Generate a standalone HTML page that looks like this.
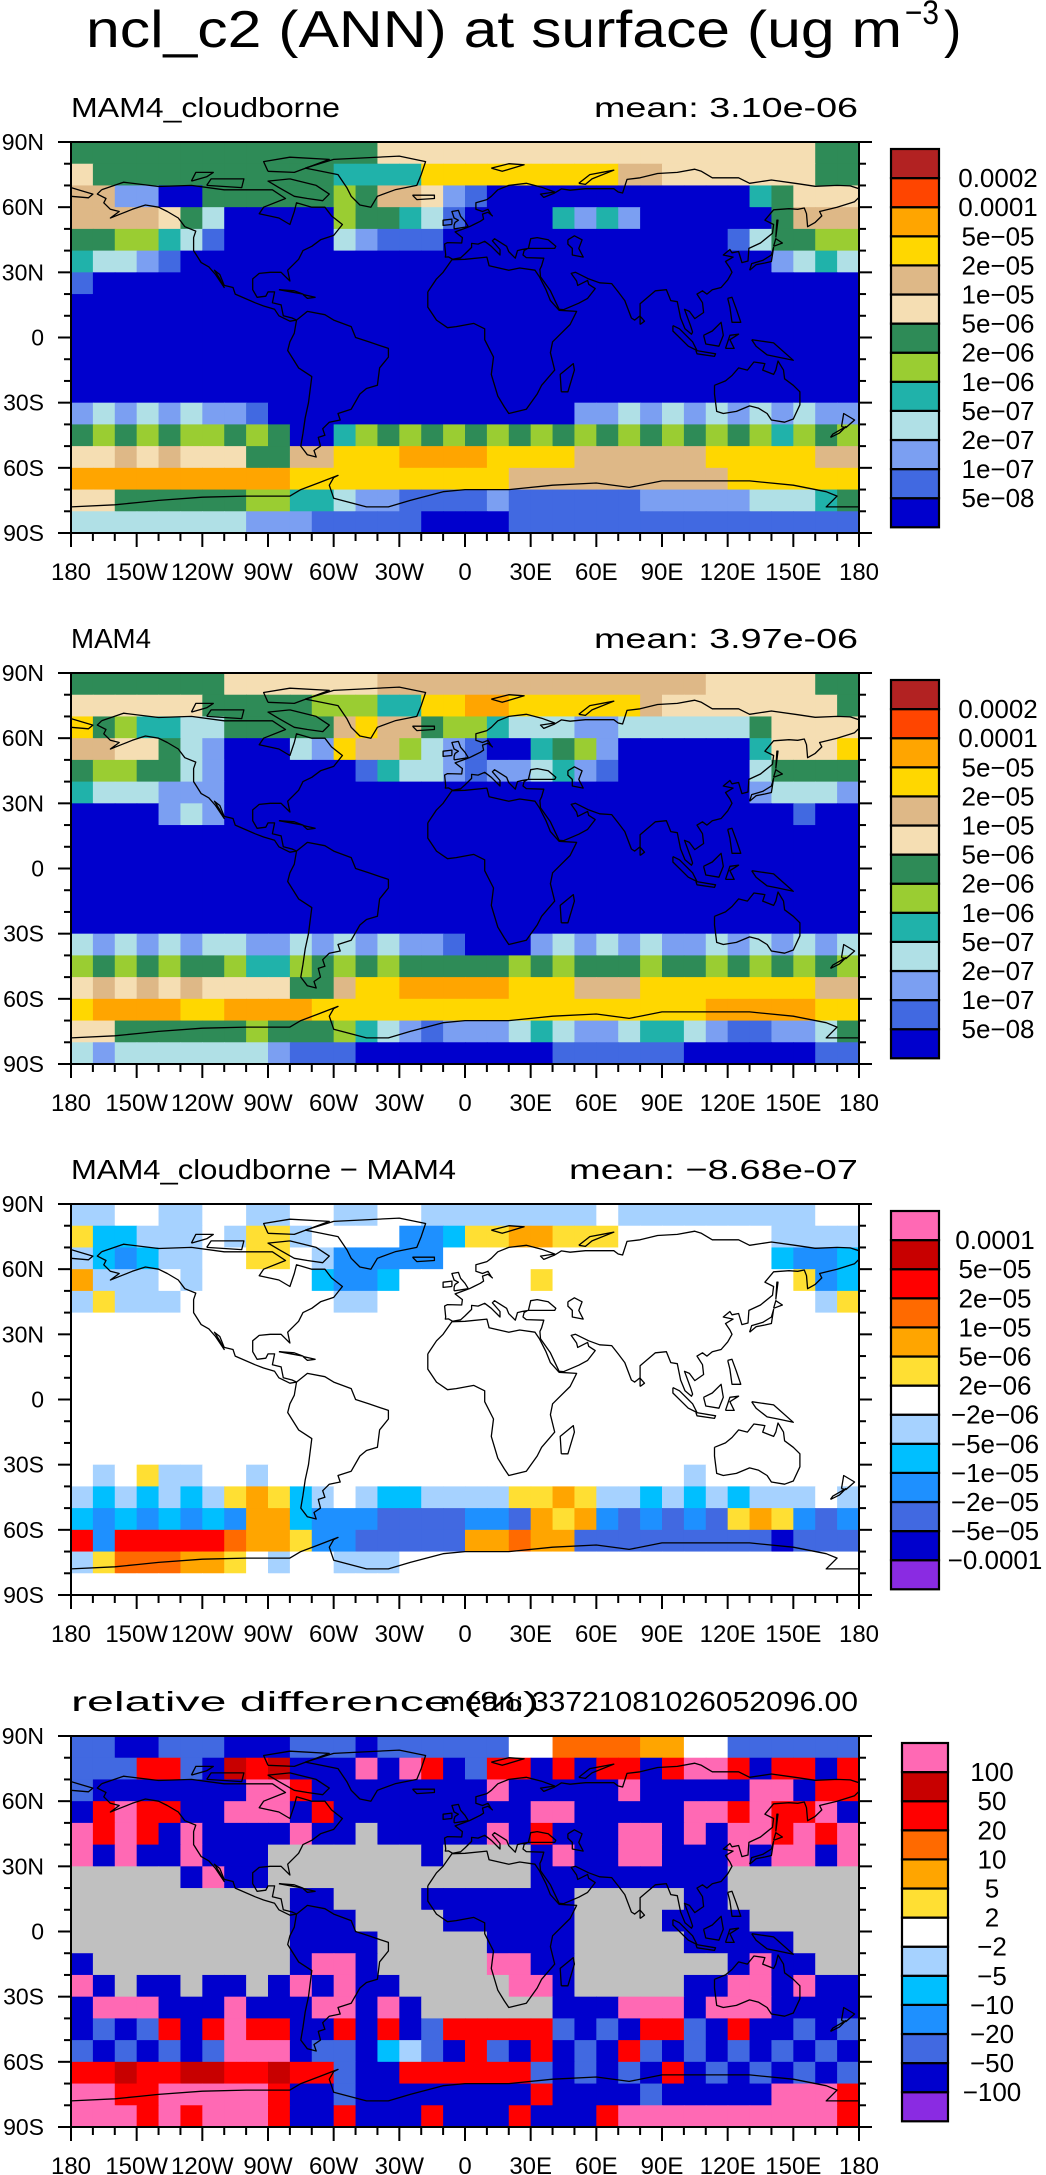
<!DOCTYPE html>
<html><head><meta charset="utf-8"><style>
html,body{margin:0;padding:0;background:#fff;}
svg{display:block;font-family:"Liberation Sans",sans-serif;}
</style></head><body>
<svg id="fig" width="1046" height="2175" viewBox="0 0 1046 2175">
<text x="86" y="47" font-size="52" textLength="816" lengthAdjust="spacingAndGlyphs">ncl_c2 (ANN) at surface (ug m</text>
<text x="905" y="24" font-size="34" textLength="34" lengthAdjust="spacingAndGlyphs">−3</text>
<text x="944" y="47" font-size="52">)</text>
</svg>
<script>
// ---- data ----
const panelTitles = ["MAM4_cloudborne","MAM4","MAM4_cloudborne − MAM4","relative difference (%)"];
const panelMeans = ["mean: 3.10e-06","mean: 3.97e-06","mean: −8.68e-07","mean: 33721081026052096.00"];
const lonLabels = ["180","150W","120W","90W","60W","30W","0","30E","60E","90E","120E","150E","180"];
const latLabels = ["90S","60S","30S","0","30N","60N","90N"];
const levLabelsConc = ["5e−08","1e−07","2e−07","5e−07","1e−06","2e−06","5e−06","1e−05","2e−05","5e−05","0.0001","0.0002"];
const levLabelsDiff = ["−0.0001","−5e−05","−2e−05","−1e−05","−5e−06","−2e−06","2e−06","5e−06","1e−05","2e−05","5e−05","0.0001"];
const levLabelsRel = ["−100","−50","−20","−10","−5","−2","2","5","10","20","50","100"];
const paletteConc = ["#0000cd","#4169e1","#7b9ff2","#b0e0e6","#20b2aa","#9acd32","#2e8b57","#f5deb3","#deb887","#ffd700","#ffa500","#ff4500","#b22222"];
const paletteDiff = ["#8a2be2","#0000cd","#4169e1","#1e90ff","#00bfff","#a6d2ff","#ffffff","#ffdf33","#ffa500","#ff6a00","#ff0000","#c80000","#ff69b4"];
const missingColor = "#c0c0c0";
// gridded level indices: 18 rows (90N->90S, 10deg) x 36 cols (180W->180E, 10deg)
const gridP1 = [
"666666 666666 667777 777777 777777 777766","766666 666666 444499 999999 988777 777766",
"882200 666666 568872 100000 000000 046777","888876 300000 566431 000042 420000 006888",
"665543 100000 321110 000000 000000 136655","433210 000000 000000 000000 000000 002343",
"100000 000000 000000 000000 000000 000000","000000 000000 000000 000000 000000 000000",
"000000 000000 000000 000000 000000 000000","000000 000000 000000 000000 000000 000000",
"000000 000000 000000 000000 000000 000000","000000 000000 000000 000000 000000 000000",
"232323 221000 000000 000002 232323 232322","656565 565600 456565 656565 656565 654565",
"778787 776688 999aaa a99998 888889 999988","aaaaaa aaaa99 999999 998888 888888 999999",
"776666 665544 322111 121111 112222 233346","333333 332221 111100 001111 111111 111111"];
const gridP2 = [
"666666 677777 778888 888888 888887 777766","777777 666665 554499 aa9999 998777 777776",
"965443 366666 898865 543332 233333 367777","887763 200032 988532 100465 200000 047779",
"655663 200000 014332 122342 100000 036666","433322 200000 000000 000000 000000 023332",
"000023 200000 000000 000000 000000 000100","000000 000000 000000 000000 000000 000000",
"000000 000000 000000 000000 000000 000000","000000 000000 000000 000000 000000 000000",
"000000 000000 000000 000000 000000 000000","000000 000000 000000 000000 000000 000000",
"323232 332232 323221 000232 323223 232323","565656 654456 565666 665656 665665 656565",
"787878 777766 899aaa aa9998 889999 999988","9aaaa9 9aaaa9 999999 999999 99999a aaaa99",
"776666 665666 543212 223432 234432 112236","323333 333211 100000 000011 111100 000011"];
const gridP3 = [
"556655 665566 556655 555555 655555 555566","744555 657756 666334 778877 766666 665555",
"543455 667765 333336 666666 666666 664334","855565 666664 334666 666766 666666 666734",
"575556 666666 556666 666666 666666 666657","666666 666666 666666 666666 666666 666666",
"666666 666666 666666 666666 666666 666666","666666 666666 666666 666666 666666 666666",
"666666 666666 666666 666666 666666 666666","666666 666666 666666 666666 666666 666666",
"666666 666666 666666 666666 666666 666666","666666 666666 666666 666666 666666 666666",
"656755 665666 666666 666666 666656 666666","545454 578745 654455 557787 554545 455565",
"434343 438843 332222 332878 323232 787323","a3aaaa a98873 322222 889882 222222 221222",
"579998 876566 555666 666666 666666 666666","666666 666666 666666 666666 666666 666666"];
const gridP4 = [
"221122 211122 212222 226699 998866 222222","222aa2 1bab11 1c1ca1 2aa1a1 aa1acc a1aa1a",
"211111 11cca1 111111 1c1111 1c1111 1cc1aa","1acaa1 1ccc1a 111111 111cc1 1111cc acaac1",
"caca1c 1111c1 1g1111 1c1a11 1cc1c1 ccacac","c1c11c 111ggg gggg1g ggg1c1 1cc111 c1cc1c",
"ggggg1 c11ggg gggggg ggg111 111111 gggggg","gggggg gggg11 gggg11 11111g gggg11 gggggg",
"gggggg gggg11 1gggg1 11111g ggg111 1ggggg","gggggg gggg11 11gggg g1111g gggg11 111ggg",
"1ggggg gggg1c c1gggg gcc11g gggggg 1c11gg","c1g11g 11g1c1 c11ggg ggcc1g gggg11 cc1c11",
"1ccc11 1c111c c1c1gg gggg11 1ccc1c cc1111","1212a1 acaa11 a1a12a aaaa21 21aa21 a11212",
"212121 2ccc12 214521 a21a12 1a2121 212121","aabaab baabaa 211aaa aaa212 121a12 121212",
"ccaacc ccca11 211111 111a11 112111 11ccca","cccaca ccca11 a111a1 11a111 accccc ccccca"];
// coastlines [lon,lat]
const coasts = [
[[-166,68],[-156,71.5],[-140,69.5],[-125,70],[-110,68],[-95,68],[-88,68],[-82,64],[-92,60],[-94,57],[-85,55],[-80,52],[-78,58],[-77,62],[-70,60],[-64,60],[-61,56],[-56,52],[-60,47],[-66,45],[-70,42],[-74,40],[-76,36],[-81,31],[-80,26],[-82,28],[-84,30],[-89,30],[-94,29.5],[-97,27],[-97,22],[-95,18.5],[-91,19],[-90,21],[-87,21],[-88,16],[-84,15],[-83,10],[-79,9],[-77,8],[-80,7.5],[-85,10],[-87,13],[-92,14.5],[-96,16],[-105,20],[-106,23],[-110,24],[-112,29],[-114.5,31],[-112,27],[-110,23],[-114,29],[-117,32.5],[-120.5,34.5],[-124,40],[-124,46],[-123,49],[-128,51],[-131,55],[-136,58],[-140,60],[-146,61],[-152,59],[-157,57],[-162,55],[-158,58],[-162,59],[-165,62],[-164,64],[-168,66],[-166,68]],
[[-73,78],[-60,82],[-30,83.5],[-18,81],[-20,75],[-22,70],[-32,68],[-40,65],[-43,60],[-48,61],[-52,65],[-54,69],[-58,75],[-68,77],[-73,78]],
[[-77,8],[-72,12],[-64,10.5],[-60,8],[-52,5],[-50,0],[-44,-2],[-35,-5],[-35,-9],[-39,-14],[-40,-22],[-45,-23.5],[-48,-26],[-52,-33],[-58,-35],[-57,-38],[-62,-39],[-65,-42],[-64,-45],[-67,-46],[-66,-50],[-69,-52],[-68,-55],[-72,-54],[-75,-50],[-74,-44],[-73,-37],[-71.5,-30],[-70,-18],[-76,-14],[-81,-6],[-80,-2],[-78,2],[-77,8]],
[[-17,21],[-13,27],[-10,30],[-6,35.8],[0,36],[10,37],[11,33],[20,31],[25,32],[32,31],[34,28],[37,22],[39,17],[43,12.5],[51,12],[48,6],[40,-2],[39,-7],[41,-15],[35,-22],[33,-26],[28,-33],[20,-35],[18,-32],[15,-27],[12,-17],[13,-9],[9,-1],[9,4],[4,6.5],[-4,5],[-8,4.5],[-13,8],[-17,14],[-17,21]],
[[-5.6,36],[-2,36.7],[0,38.5],[3,41.5],[3,43.3],[6,43],[9,44.3],[12,42],[16,38],[16,40.5],[12.5,44.5],[13.5,45.5],[19,42],[20,39.5],[23,36.5],[24,40],[26,40.5],[29,41],[41,41],[41.5,42],[38,45],[33,46],[30,45.5],[29,41.2],[27,40],[26.5,38],[28,36.8],[36,36.5],[35,33],[34.2,31.3],[34.5,28],[39,21.5],[43,13],[45,12.8],[52,15.8],[56,18],[59.5,22.5],[56.5,24.5],[56,26.3],[51.5,24],[51,26],[48.5,29.5],[50.5,30],[56.5,27],[61.5,25.2],[67,24.8],[70,21],[73,17],[76,9],[77.5,8],[80,10],[80,15.5],[87,21.5],[92,22],[94,17],[97,16.5],[98.5,9],[100.5,4],[103.5,1.5],[104,2.5],[103,5.5],[100.3,13],[102.5,12],[105,8.7],[109,11.5],[108.5,16],[106,20],[108.5,21.5],[110.5,20],[113,22],[117,23],[120,26.5],[122,30],[121,32],[119,35],[122.5,37],[118,38],[121,40.5],[122,39],[125,39.6],[126.5,34.5],[129.3,35.2],[129.7,41],[135,43.5],[140.5,48],[141,52],[137,54],[141,58.8],[148,59.3],[152,59],[155,59.6],[156,57],[156.5,51],[160,53],[163,56],[162,58],[170,60],[178,62.5],[180,64.5]],
[[180,68.5],[176,69.8],[170,70],[160,69.6],[152,70.8],[140,72.5],[130,71],[125,73.5],[113,73.5],[108,76.5],[105,77.5],[97,76],[88,75.5],[80,73.5],[74,72.8],[72,66.5],[70,67],[68,68.5],[60,68.5],[55,68.5],[48,67.8],[44,68.4],[41,66.5],[36,64.5],[34.5,66],[41,67],[35,69.2],[28,71],[20,70],[15,68],[12,65],[10,63.5],[5,62],[5,59],[8,58],[10.5,59],[12,56.5],[12.5,56],[10.5,57.7],[8,56.8],[8.5,54.5],[7,53.5],[4,52],[2,51],[-1.5,49.7],[-4.5,48.6],[-1.2,46],[-1.5,43.5],[-8,43.7],[-9.3,43],[-8.8,38],[-9,37],[-7.5,37.1],[-5.6,36]],
[[-180,65],[-172,64.3],[-170,66],[-175,67.5],[-180,69]],
[[114,-22],[114,-26],[115,-34],[118,-35],[124,-34],[130,-31.5],[134,-32.5],[138,-35],[140,-38],[146,-39],[150,-37.5],[153,-31],[153,-25],[150,-22],[146,-19],[145.5,-15],[143,-10.8],[142,-15],[141,-17],[136,-15],[137,-12],[132,-11.3],[129,-15],[125,-14],[122,-17.5],[119,-20],[114,-22]],
[[-180,-78],[-160,-77],[-150,-76],[-140,-75],[-120,-73.5],[-100,-73],[-80,-73],[-75,-70],[-67,-67],[-58,-63.5],[-60,-64.5],[-62,-68],[-60,-74],[-45,-78],[-35,-78],[-25,-75],[-10,-71],[0,-70],[20,-70],[40,-68],[60,-67],[75,-69],[90,-66],[110,-66],[130,-66],[150,-68],[165,-71],[170,-73],[165,-78],[180,-78]],
[[-5,50],[1.5,51],[0,53.5],[-2,55.8],[-3,58.5],[-6,58],[-5,55],[-3,54],[-4.5,53],[-5,51.7],[-5,50]],
[[-6,52],[-6,54.5],[-10,54],[-10,51.6],[-6,52]],
[[130,31],[131,34],[136,35.5],[140,38],[141,41.5],[140,35],[137,34.3],[133,33.5],[130,31]],
[[141,42],[145,43.5],[142,45.5],[141,42]],
[[44,-25],[47,-25],[50,-15],[49.5,-12],[43.5,-17],[44,-25]],
[[172,-41],[174,-41.5],[178,-38],[173,-35],[172,-41]],[[167,-46],[171,-44],[174,-41],[168,-44.5],[167,-46]],
[[95,5.5],[98,4],[104,-2],[106,-6],[102,-4],[95,3],[95,5.5]],
[[109,1],[110,-3],[116,-4],[118,1],[117,7],[113,3],[109,1]],
[[105.5,-6],[114.5,-7.5],[114,-8.7],[106,-7.5],[105.5,-6]],
[[131,-1],[141,-2.5],[150,-10.5],[143,-9],[138,-8],[133,-4],[131,-1]],
[[119,-5],[121,1],[125,1.5],[121,-1],[123,-5],[119,-5]],
[[120,18],[122,18.5],[124,13],[126,7],[122,7],[121,14],[120,18]],
[[-24,65.5],[-14,65.5],[-14,64],[-22,63.5],[-24,65.5]],
[[-85,22],[-74,20],[-78,21.5],[-85,22]],[[-74,19.8],[-68.5,18.5],[-72,18],[-74,19.8]],
[[-80,73],[-68,70],[-62,66],[-65,63],[-72,64],[-78,65],[-85,69],[-90,72],[-80,73]],
[[-90,76.5],[-78,76],[-62,82],[-80,83],[-92,81],[-90,76.5]],
[[-118,70],[-102,69],[-101,73],[-116,73],[-118,70]],
[[-125,72],[-118,74],[-115,76],[-123,76],[-125,72]],
[[12,78],[20,80],[27,79.5],[17,76.5],[12,78]],
[[52,71],[57,75],[68,77],[58,73],[55,70.5],[52,71]],
[[142,46],[143,54],[142.5,54],[142,46]],
[[47,45],[50,46.8],[53.5,45],[52,41],[54,37],[49,38],[49,41],[47,43],[47,45]],
[[80,6],[82,7.5],[80,9.8],[80,6]]
];
// ---- drawing ----
const NS = "http://www.w3.org/2000/svg";
const svg = document.getElementById("fig");
function mk(tag, attrs, parent){const e=document.createElementNS(NS,tag);for(const k in attrs)e.setAttribute(k,attrs[k]);parent.appendChild(e);return e;}
const L=71, W=788, H=391;
const tops=[142,673,1204,1736];
const grids=[gridP1,gridP2,gridP3,gridP4];
const palettes=[paletteConc,paletteConc,paletteDiff,paletteDiff];
const labelSets=[levLabelsConc,levLabelsConc,levLabelsDiff,levLabelsRel];
const cbX=[891,891,891,902], cbW=[48,48,48,46], cbLabX=[998,998,995,992];
const titleW=[269,80,385,468], meanW=[264,264,289,418];
function xs(lon){return L+(lon+180)/360*W;}
function ys(top,lat){return top+(90-lat)/180*H;}
for(let p=0;p<4;p++){
  const T=tops[p];
  const g=mk("g",{},svg);
  
  
  const t1=mk("text",{x:L,y:T-25,"font-size":28,textLength:titleW[p],lengthAdjust:"spacingAndGlyphs"},g);
  t1.textContent=panelTitles[p];
  
  
  const t2=mk("text",{x:858,y:T-25,"font-size":28,"text-anchor":"end",textLength:meanW[p],lengthAdjust:"spacingAndGlyphs"},g);
  t2.textContent=panelMeans[p];
  
  
  const cp=mk("clipPath",{id:"clip"+p},g);
  mk("rect",{x:L,y:T,width:W,height:H},cp);
  const field=mk("g",{"clip-path":"url(#clip"+p+")"},g);
  
  
  const rows=grids[p], pal=palettes[p];
  for(let r=0;r<rows.length;r++){
    const s=rows[r].replace(/ /g,"");
    for(let c=0;c<s.length;c++){
      const ch=s[c];
      const col= ch==="g"?missingColor:pal[parseInt(ch,16)];
      const lon0=-180+c*10, lat0=90-r*10;
      const cell=mk("rect",{x:xs(lon0),y:ys(T,lat0),width:W/36+0.6,height:H/18+0.6,fill:col},field);
      
      
    }
  }
  const cg=mk("g",{"clip-path":"url(#clip"+p+")",fill:"none",stroke:"#000","stroke-width":1.3,"stroke-linejoin":"round"},g);
  
  
  coasts.forEach(poly=>{
    const d="M"+poly.map(pt=>xs(pt[0]).toFixed(1)+","+ys(T,pt[1]).toFixed(1)).join("L");
    const pa=mk("path",{d:d},cg);
    
    
  });
  const fr=mk("rect",{x:L,y:T,width:W,height:H,fill:"none",stroke:"#000","stroke-width":2},g);
  
  
  // ticks
  for(let lat=-90;lat<=90;lat+=10){
    const y=ys(T,lat), len=(lat%30===0)?13:7;
    const tl=mk("line",{x1:L-len,x2:L,y1:y,y2:y,stroke:"#000","stroke-width":2},g);
    
    
    const tr=mk("line",{x1:L+W,x2:L+W+len,y1:y,y2:y,stroke:"#000","stroke-width":2},g);
    
    
  }
  latLabels.forEach((lab,i)=>{
    const tx=mk("text",{x:44,y:ys(T,-90+i*30)+8,"font-size":23,"text-anchor":"end"},g);
    tx.textContent=lab;
    
    
  });
  for(let lon=-180;lon<=180;lon+=10){
    const x=xs(lon), len=(lon%30===0)?14:8;
    const tb=mk("line",{x1:x,x2:x,y1:T+H,y2:T+H+len,stroke:"#000","stroke-width":2},g);
    
    
  }
  lonLabels.forEach((lab,i)=>{
    const tx=mk("text",{x:xs(-180+i*30),y:T+H+47,"font-size":24,"text-anchor":"middle"},g);
    tx.textContent=lab;
    
    
  });
  // colorbar
  const cb=mk("g",{},g);
  
  
  const n=pal.length, bh=29.1, cTop=T+7;
  for(let i=0;i<n;i++){
    const y=cTop+(n-1-i)*bh;
    const b=mk("rect",{x:cbX[p],y:y,width:cbW[p],height:bh,fill:pal[i],stroke:"#000","stroke-width":2.2},cb);
    
    
  }
  labelSets[p].forEach((lab,i)=>{
    const y=cTop+(n-1-i)*bh;
    const tx=mk("text",{x:cbLabX[p],y:y+9,"font-size":26,"text-anchor":"middle"},cb);
    tx.textContent=lab;
    
    
  });
}
</script>
</body></html>
